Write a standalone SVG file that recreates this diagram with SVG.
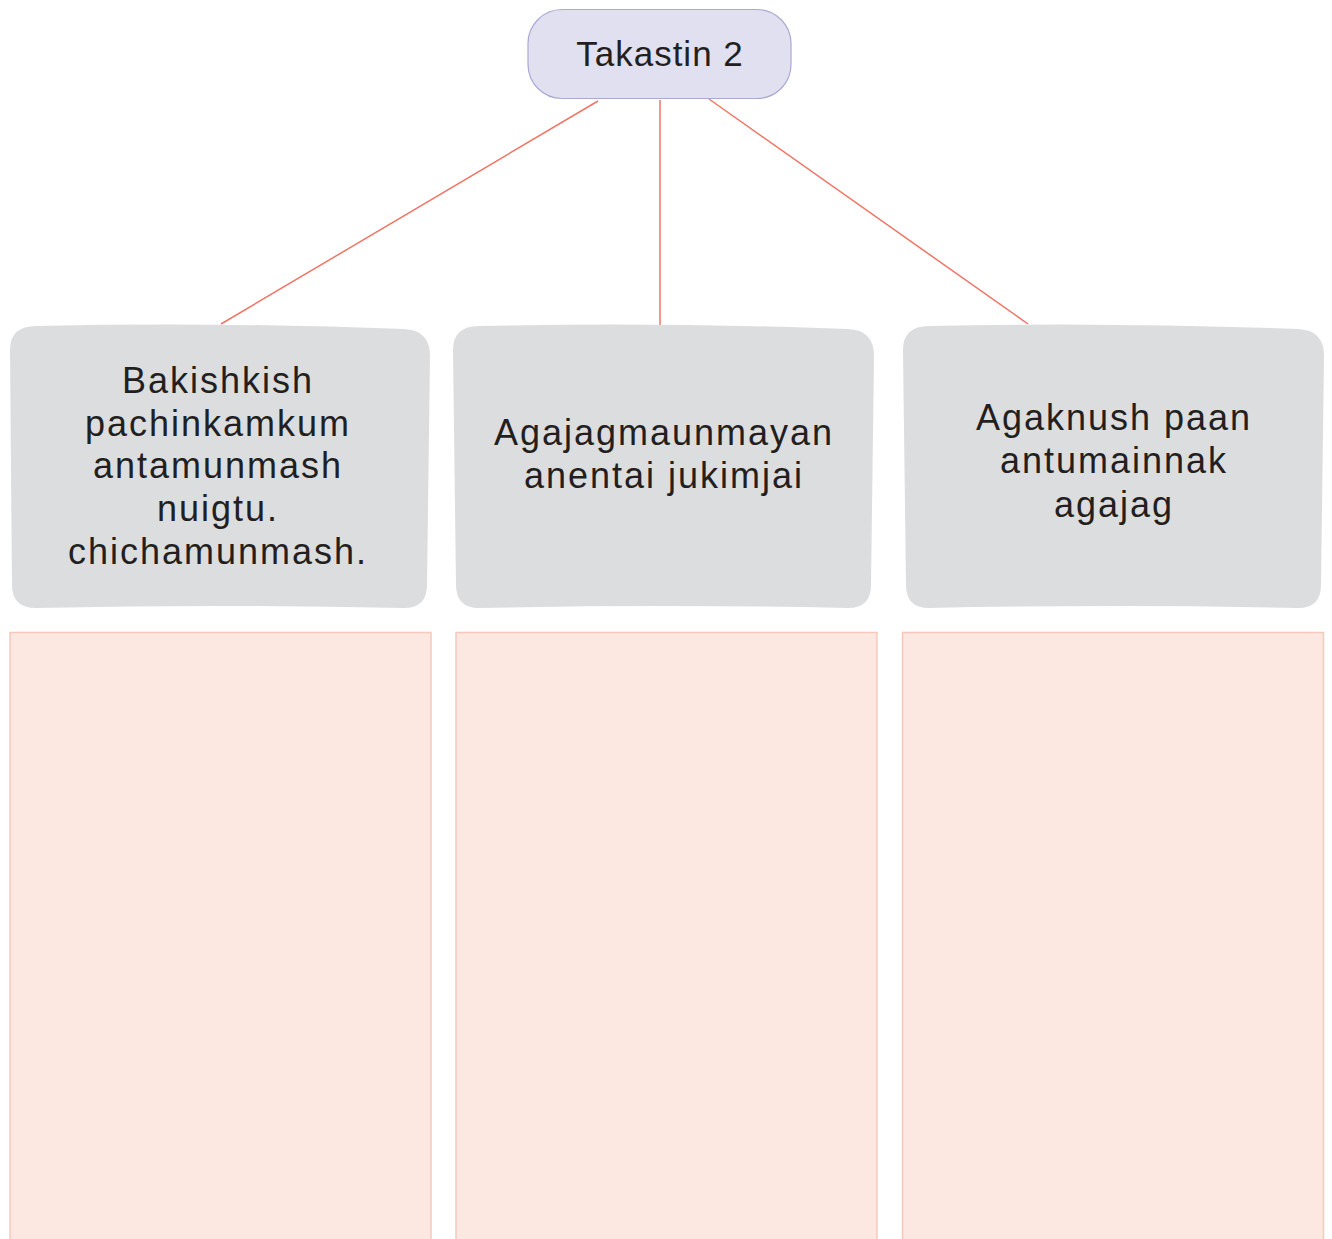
<svg xmlns="http://www.w3.org/2000/svg" width="1332" height="1239" viewBox="0 0 1332 1239">
<style>
.t{font-family:"Liberation Sans",Arial,sans-serif;font-size:36px;fill:#231f20;text-anchor:middle;letter-spacing:2px}
.card{fill:#dcdddf}
.pink{fill:#fce7e1;stroke:#f8c8bc;stroke-width:1.5}
.conn{stroke:#f07565;stroke-width:1.5;fill:none}
</style>
<rect width="1332" height="1239" fill="#ffffff"/>
<g id="connectors">
<line class="conn" x1="598" y1="101" x2="221" y2="324"/>
<line class="conn" x1="660" y1="100" x2="660" y2="325"/>
<line class="conn" x1="709" y1="99" x2="1028" y2="324"/>
</g>
<g id="root">
<rect x="528" y="9.5" width="263" height="89" rx="34" fill="#e0e0f0" stroke="#a9a9d4" stroke-width="1.2"/>
<text class="t" x="660" y="66" style="font-size:35px;letter-spacing:1px">Takastin 2</text>
</g>
<g id="node1">
<path class="card" d="M36 326 Q220 322 404 329 Q430 330 430 356 L427 585 Q427 608 404 608 Q220 604 36 608 Q12 608 12 585 L10 350 Q10 326 36 326 Z"/>
<text class="t" x="218" y="393">Bakishkish</text>
<text class="t" x="218" y="436">pachinkamkum</text>
<text class="t" x="218" y="478">antamunmash</text>
<text class="t" x="218" y="521">nuigtu.</text>
<text class="t" x="218" y="564">chichamunmash.</text>
</g>
<g id="node2">
<path class="card" d="M479 326 Q664 322 848 329 Q874 330 874 356 L871 585 Q871 608 848 608 Q664 604 479 608 Q456 608 456 585 L453 350 Q453 326 479 326 Z"/>
<text class="t" x="664" y="445">Agajagmaunmayan</text>
<text class="t" x="664" y="488">anentai jukimjai</text>
</g>
<g id="node3">
<path class="card" d="M929 326 Q1114 322 1298 329 Q1324 330 1324 356 L1321 585 Q1321 608 1298 608 Q1114 604 929 608 Q906 608 906 585 L903 350 Q903 326 929 326 Z"/>
<text class="t" x="1114" y="430">Agaknush paan</text>
<text class="t" x="1114" y="473">antumainnak</text>
<text class="t" x="1114" y="517">agajag</text>
</g>
<g id="answer1"><rect class="pink" x="10" y="632.5" width="421" height="620"/></g>
<g id="answer2"><rect class="pink" x="456" y="632.5" width="421" height="620"/></g>
<g id="answer3"><rect class="pink" x="902.5" y="632.5" width="421" height="620"/></g>
</svg>
